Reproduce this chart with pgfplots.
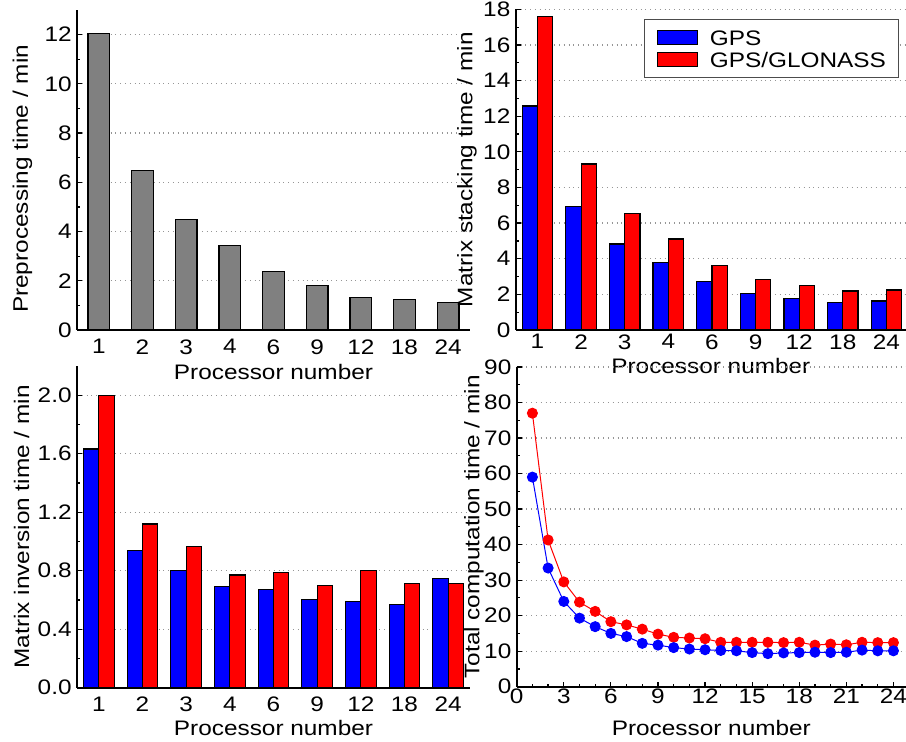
\documentclass[border=0pt]{standalone}
\usepackage{pgfplots}
\pgfplotsset{compat=1.18}
\usepackage{fontspec}
\setmainfont{Liberation Sans}[FakeStretch=1.16]
\definecolor{barblue}{RGB}{0,0,255}
\definecolor{barred}{RGB}{255,0,0}
\definecolor{bargray}{RGB}{128,128,128}
\definecolor{gridgray}{RGB}{150,150,150}
\newcommand{\chartfont}{\fontsize{10.5}{12.6}\selectfont}

\pgfplotsset{
 common/.style={
  scale only axis,
  anchor=south west,
  axis x line*=bottom, axis y line*=left,
  axis line style={line width=1pt},
  tick align=inside,
  major tick length=2.5pt, minor tick length=1.5pt,
  tick style={line width=0.6pt, black},
  ymajorgrids, grid style={dotted, line width=0.6pt, gridgray},
  /pgf/number format/assume math mode=true,
  tick label style={font=\chartfont},
  label style={font=\chartfont},
  ylabel style={anchor=center},
  xlabel style={anchor=base},
  xticklabel style={yshift=1.5pt},
  yticklabel style={xshift=1pt},
 },
 barcat/.style={
  xmin=0.5, xmax=9.5, xtick={1,...,9},
  xticklabels={1,2,3,4,6,9,12,18,24},
  xtick style={draw=none},
  ymin=0,
 },
}

\pgfplotstableread{
x gps glo
1 12.57 17.58
2 6.92 9.32
3 4.83 6.53
4 3.80 5.11
5 2.71 3.61
6 2.06 2.84
7 1.76 2.51
8 1.53 2.19
9 1.63 2.24
}\stacking

\pgfplotstableread{
x gps glo
1 1.633 2.00
2 0.936 1.119
3 0.800 0.964
4 0.690 0.770
5 0.674 0.788
6 0.605 0.699
7 0.587 0.800
8 0.571 0.715
9 0.749 0.715
}\inversion

\pgfplotstableread{
x gps glo
1 59.0 77.0
2 33.4 41.3
3 24.0 29.5
4 19.3 23.8
5 16.9 21.2
6 15.0 18.3
7 14.1 17.4
8 12.2 16.2
9 11.7 14.8
10 11.0 13.9
11 10.6 13.7
12 10.4 13.5
13 10.2 12.5
14 10.1 12.5
15 9.6 12.5
16 9.3 12.5
17 9.5 12.4
18 9.6 12.5
19 9.7 11.7
20 9.6 12.0
21 9.7 11.8
22 10.3 12.5
23 10.1 12.4
24 10.1 12.4
}\total

\begin{document}
\chartfont
\begin{tikzpicture}
\useasboundingbox (0,0) rectangle (453pt,371pt);

% Top-left: preprocessing
\begin{axis}[common, barcat,
  at={(38.5pt,206pt)}, width=196.5pt, height=160pt,
  ymax=13, ytick={0,2,...,12}, minor y tick num=1,
  ybar, bar width=0.5,
  xlabel={Processor number},
  xlabel style={at={(axis description cs:0.5,0)}, yshift=-25pt},
  ylabel={Preprocessing time / min},
  ylabel style={at={(axis description cs:-0.1387,0.472)}},
]
\addplot[fill=bargray, draw=black, line width=0.6pt] coordinates {
(1,12.05) (2,6.48) (3,4.48) (4,3.44) (5,2.36) (6,1.82) (7,1.31) (8,1.24) (9,1.12)};
\end{axis}

% Top-right: matrix stacking
\begin{axis}[common, barcat,
  at={(257.85pt,206pt)}, width=195.15pt, height=160.35pt,
  xmax=9.45,
  ymax=18, ytick={0,2,...,18}, minor y tick num=1,
  ybar=0pt, bar width=0.35,
  xticklabel style={yshift=2.5pt},
  xlabel={Processor number},
  xlabel style={at={(axis description cs:0.5,0)}, yshift=-21.7pt},
  ylabel={Matrix stacking time / min},
  ylabel style={at={(axis description cs:-0.1248,0.5)}},
  legend style={at={(axis description cs:0.982,0.969)}, anchor=north east,
    draw=black!70, line width=0.6pt, fill=white,
    font=\chartfont,
    inner xsep=6.2pt, inner ysep=3.35pt,
    column sep=6pt,
    nodes={inner sep=0pt, text height=9.5pt, text depth=1.5pt},
    cells={anchor=west}},
  legend image code/.code={\draw[#1, line width=0.6pt] (1.6pt,-3.5pt) rectangle (21.6pt,3.5pt);},
]
\addplot[fill=barblue, draw=black, line width=0.6pt] table[x=x, y=gps] {\stacking};
\addplot[fill=barred, draw=black, line width=0.6pt] table[x=x, y=glo] {\stacking};
\legend{GPS, GPS/GLONASS}
\end{axis}

% Bottom-left: matrix inversion
\begin{axis}[common, barcat,
  at={(38.5pt,27.15pt)}, width=196.5pt, height=160.85pt,
  ymax=2.2, ytick={0,0.4,...,2.0}, minor y tick num=1,
  yticklabel style={/pgf/number format/.cd, fixed, fixed zerofill, precision=1},
  ybar=0pt, bar width=0.35,
  xlabel={Processor number},
  xlabel style={at={(axis description cs:0.5,0)}, yshift=-24pt},
  ylabel={Matrix inversion time / min},
  ylabel style={at={(axis description cs:-0.1407,0.5)}},
]
\addplot[fill=barblue, draw=black, line width=0.6pt] table[x=x, y=gps] {\inversion};
\addplot[fill=barred, draw=black, line width=0.6pt] table[x=x, y=glo] {\inversion};
\end{axis}

% Bottom-right: total computation
\begin{axis}[common,
  at={(258.35pt,27.65pt)}, width=194.65pt, height=159.85pt,
  xmin=0, xmax=24.8, xtick={0,3,...,24}, minor x tick num=2,
  ymin=0, ymax=90, ytick={0,10,...,90}, minor y tick num=1,
  xticklabel style={yshift=1.2pt},
  xlabel={Processor number},
  xlabel style={at={(axis description cs:0.5,0)}, yshift=-24.5pt},
  ylabel={Total computation time / min},
  ylabel style={at={(axis description cs:-0.1097,0.5)}},
]
\addplot[barred, line width=0.5pt, mark=*, mark size=2.5pt, mark options={fill=barred, draw=barred}] table[x=x, y=glo] {\total};
\addplot[barblue, line width=0.5pt, mark=*, mark size=2.5pt, mark options={fill=barblue, draw=barblue}] table[x=x, y=gps] {\total};
\end{axis}
\end{tikzpicture}
\end{document}
